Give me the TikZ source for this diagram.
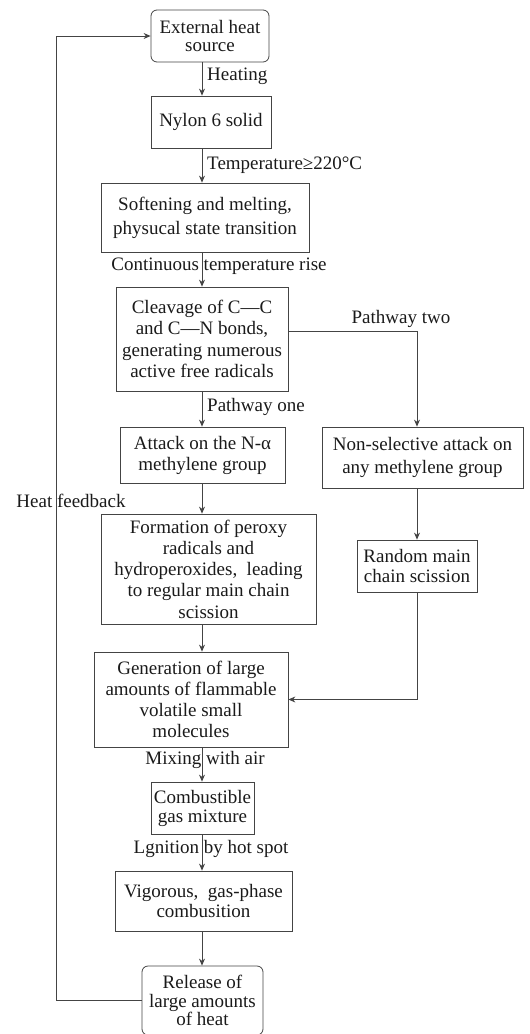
\documentclass[tikz,border=0pt]{standalone}
\usepackage{fontspec}
\setmainfont{Liberation Serif}
\usetikzlibrary{arrows.meta}
\definecolor{ln}{HTML}{444444}
\definecolor{tx}{HTML}{1A1A1A}
\begin{document}
\begin{tikzpicture}[x=1pt,y=-1pt,
  box/.style={draw=ln,line width=0.8pt,align=center,inner sep=0pt,text=tx,
    font=\fontsize{19}{21}\selectfont},
  rbox/.style={box,rounded corners=6pt},
  arr/.style={draw=ln,line width=0.8pt,-{Stealth[length=7pt,width=6pt]}},
  lnk/.style={draw=ln,line width=0.8pt},
  lbl/.style={text=tx,inner sep=0pt,font=\fontsize{19}{21}\selectfont}]
\useasboundingbox (0,0) rectangle (530,1034);
\coordinate (mx) at (202,0);
\coordinate (px) at (417,0);
\coordinate (fx) at (56,0);
% boxes
\node[rbox,minimum width=118pt,minimum height=52pt,font=\fontsize{19}{18.3}\selectfont] (ext) at (210,36) {External heat\\source};
\node[box,minimum width=120pt,minimum height=52pt] (nylon) at (211,122) {Nylon 6 solid};
\node[box,minimum width=208pt,minimum height=69pt,font=\fontsize{19}{24}\selectfont] (soft) at (205,217.5) {Softening and melting,\\physucal state transition};
\node[box,minimum width=172pt,minimum height=104pt,font=\fontsize{19}{21.5}\selectfont] (cleav) at (202,339) {Cleavage of C—C\\and C—N bonds,\\generating numerous\\active free radicals};
\node[box,minimum width=165pt,minimum height=56pt] (attack) at (202.5,455) {Attack on the N-α\\methylene group};
\node[box,minimum width=201pt,minimum height=61pt,font=\fontsize{19}{22.7}\selectfont] (nonsel) at (422.5,457.5) {Non-selective attack on\\any methylene group};
\node[box,minimum width=215pt,minimum height=110pt,font=\fontsize{19}{21.3}\selectfont] (form) at (208.5,569) {Formation of peroxy\\radicals and\\hydroperoxides,\ \ leading\\to regular main chain\\scission};
\node[box,minimum width=120pt,minimum height=52pt,font=\fontsize{19}{20.7}\selectfont] (random) at (417,566) {Random main\\chain scission};
\node[box,minimum width=194pt,minimum height=95pt] (gen) at (191,699.5) {Generation of large\\amounts of flammable\\volatile small\\molecules};
\node[box,minimum width=103pt,minimum height=52pt,font=\fontsize{19}{19}\selectfont] (comb) at (202.5,808) {Combustible\\gas mixture};
\node[box,minimum width=177pt,minimum height=60pt,font=\fontsize{19}{19.3}\selectfont] (vig) at (203.5,901) {Vigorous,\ \ gas-phase\\combusition};
\node[rbox,minimum width=121pt,minimum height=69pt,font=\fontsize{19}{18.3}\selectfont] (rel) at (202.5,1000.5) {Release of\\large amounts\\of heat};
% main arrows
\draw[arr] (ext.south -| mx) -- (nylon.north -| mx);
\draw[arr] (nylon.south -| mx) -- (soft.north -| mx);
\draw[arr] (soft.south -| mx) -- (cleav.north -| mx);
\draw[arr] (cleav.south -| mx) -- (attack.north -| mx);
\draw[arr] (attack.south -| mx) -- (form.north -| mx);
\draw[arr] (form.south -| mx) -- (gen.north -| mx);
\draw[arr] (gen.south -| mx) -- (comb.north -| mx);
\draw[arr] (comb.south -| mx) -- (vig.north -| mx);
\draw[arr] (vig.south -| mx) -- (rel.north -| mx);
% pathway two
\coordinate (p2) at (288,331);
\draw[arr] (p2) -| (nonsel.north -| px);
\draw[arr] (nonsel.south -| px) -- (random.north -| px);
\draw[arr] (random.south) |- (gen.east);
% feedback
\draw[arr] (rel.west) -| (ext.west -| fx) -- (ext.west);
% labels
\node[lbl,anchor=west] (l1) at (207,76) {Heating};
\node[lbl,anchor=west] (l2) at (207,165) {Temperature≥220°C};
\node[lbl] (l3) at (219,266) {Continuous temperature rise};
\node[lbl] (l4) at (401,319) {Pathway two};
\node[lbl,anchor=west] (l5) at (207,407) {Pathway one};
\node[lbl] (l6) at (71,501) {Heat feedback};
\node[lbl] (l7) at (205,760) {Mixing with air};
\node[lbl] (l8) at (211,849) {Lgnition by hot spot};
\end{tikzpicture}
\end{document}
